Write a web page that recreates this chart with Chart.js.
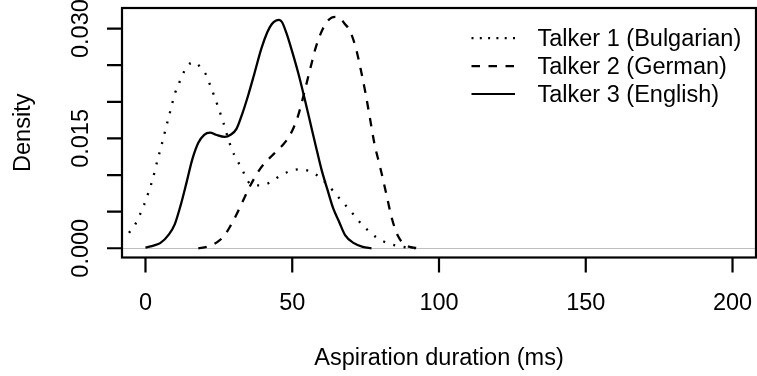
<!DOCTYPE html>
<html>
<head>
<meta charset="utf-8">
<title>Aspiration duration density</title>
<script src="https://cdn.jsdelivr.net/npm/chart.js@4/dist/chart.umd.min.js"></script>
<style>
  html, body { margin: 0; padding: 0; background: #fff; overflow: hidden; }
  canvas { display: block; }
</style>
</head>
<body>
<canvas id="densityChart" width="757" height="376"></canvas>
<script>
// Kernel density estimates of aspiration duration, one curve per talker
const bulgarianX = [-5.6, -3.6, -2, -0.5, 1, 2.5, 4, 5.5, 7, 8.5, 10, 11.5, 13, 14.5, 15.5, 16.5, 17.5, 19, 20.5, 22, 23.5, 25, 26.5, 28, 29.5, 31, 33, 35, 37, 39.5, 42.5, 45.5, 49, 52.5, 56, 59, 61.5, 64, 66.5, 69, 71.5, 74, 76.5, 79, 82.5, 86, 89.5, 92];
const bulgarianDensity = [0.0021, 0.0032, 0.0045, 0.0059, 0.0076, 0.0095, 0.0119, 0.0141, 0.0165, 0.0188, 0.0211, 0.0226, 0.0240, 0.0250, 0.0253, 0.0254, 0.0252, 0.0246, 0.0238, 0.0223, 0.0207, 0.0190, 0.0172, 0.0152, 0.0134, 0.0122, 0.0107, 0.0091, 0.0086, 0.0086, 0.0090, 0.0098, 0.0105, 0.0108, 0.0105, 0.0098, 0.0089, 0.0078, 0.0066, 0.0055, 0.0043, 0.0031, 0.0022, 0.0014, 0.0007, 0.0003, 0.0001, 0.0000];

const germanX = [18, 21, 23, 25, 27, 29, 31, 33, 35, 37, 39, 41, 43, 45, 47, 49, 50.5, 52, 53.5, 55, 56.5, 58, 60, 62, 63.5, 65, 66.5, 68, 69.5, 71.5, 73.5, 75, 76.5, 78, 80, 82, 84, 86, 88, 90, 93];
const germanDensity = [0.0000, 0.0002, 0.0005, 0.0010, 0.0018, 0.0031, 0.0046, 0.0063, 0.0080, 0.0095, 0.0108, 0.0118, 0.0126, 0.0134, 0.0142, 0.0153, 0.0165, 0.0181, 0.0203, 0.0227, 0.0251, 0.0274, 0.0296, 0.0310, 0.0315, 0.0316, 0.0313, 0.0306, 0.0298, 0.0276, 0.0241, 0.0211, 0.0177, 0.0143, 0.0110, 0.0075, 0.0040, 0.0017, 0.0006, 0.0002, 0.0000];

const englishX = [0, 3, 5, 8, 10, 12, 14, 16, 18, 20, 22, 24, 27, 29, 31, 33, 35, 37, 39.5, 41.5, 43, 44.5, 45.5, 46.5, 48, 49.5, 52, 54, 56, 58, 60, 62, 64, 66, 68, 71, 74, 77];
const englishDensity = [0.0001, 0.0004, 0.0007, 0.0019, 0.0033, 0.0059, 0.0090, 0.0122, 0.0144, 0.0155, 0.0158, 0.0155, 0.0152, 0.0155, 0.0163, 0.0184, 0.0209, 0.0237, 0.0273, 0.0295, 0.0306, 0.0311, 0.0312, 0.0309, 0.0294, 0.0275, 0.0240, 0.0208, 0.0174, 0.0140, 0.0107, 0.0080, 0.0054, 0.0036, 0.0018, 0.0007, 0.0002, 0.0000];

const talkerNames = ['Talker 1 (Bulgarian)', 'Talker 2 (German)', 'Talker 3 (English)'];

const xTicks = [0, 50, 100, 150, 200];
const yTicks = [0, 0.005, 0.010, 0.015, 0.020, 0.025, 0.030];
const yTickLabels = [0, 0.015, 0.030];
const xTitle = 'Aspiration duration (ms)';
const yTitle = 'Density';

const FONT = '23.5px "Liberation Sans", Arial, sans-serif';
const DOTTED = [2, 8.6];
const DASHED = [8.5, 8.5];

function toPoints(xs, ys) {
  return xs.map((x, i) => ({ x: x, y: ys[i] }));
}

// base-graphics style frame: box, outward ticks, rotated y labels, plain legend
const baseAxes = {
  id: 'baseAxes',
  beforeDatasetsDraw(chart) {
    const { ctx, chartArea: a, scales } = chart;
    const y0 = Math.round(scales.y.getPixelForValue(0)) + 0.5;
    ctx.save();
    ctx.strokeStyle = '#bebebe';
    ctx.lineWidth = 1;
    ctx.beginPath();
    ctx.moveTo(a.left, y0);
    ctx.lineTo(a.right, y0);
    ctx.stroke();
    ctx.restore();
  },
  afterDraw(chart) {
    const { ctx, chartArea: a, scales } = chart;
    const xs = scales.x, ys = scales.y;
    ctx.save();
    ctx.strokeStyle = '#000';
    ctx.fillStyle = '#000';
    ctx.lineWidth = 2.2;
    ctx.strokeRect(a.left, a.top, a.right - a.left, a.bottom - a.top);

    ctx.font = FONT;
    ctx.beginPath();
    xTicks.forEach(v => {
      const px = xs.getPixelForValue(v);
      ctx.moveTo(px, a.bottom);
      ctx.lineTo(px, a.bottom + 15);
    });
    yTicks.forEach(v => {
      const py = ys.getPixelForValue(v);
      ctx.moveTo(a.left, py);
      ctx.lineTo(a.left - 15, py);
    });
    ctx.stroke();

    ctx.textAlign = 'center';
    ctx.textBaseline = 'alphabetic';
    xTicks.forEach(v => {
      ctx.fillText(String(v), xs.getPixelForValue(v), a.bottom + 52);
    });
    yTickLabels.forEach(v => {
      ctx.save();
      ctx.translate(a.left - 34.5, ys.getPixelForValue(v));
      ctx.rotate(-Math.PI / 2);
      ctx.fillText(v.toFixed(3), 0, 0);
      ctx.restore();
    });

    ctx.fillText(xTitle, (a.left + a.right) / 2, 365);
    ctx.save();
    ctx.translate(29.5, (a.top + a.bottom) / 2);
    ctx.rotate(-Math.PI / 2);
    ctx.fillText(yTitle, 0, 0);
    ctx.restore();

    // legend, top right, no frame
    const dashes = [[2, 6.3], DASHED, []];
    const rowY = [38.2, 66.1, 94.0];
    ctx.textAlign = 'left';
    talkerNames.forEach((name, i) => {
      ctx.setLineDash(dashes[i]);
      ctx.beginPath();
      ctx.moveTo(471.5, rowY[i]);
      ctx.lineTo(515, rowY[i]);
      ctx.stroke();
      ctx.setLineDash([]);
      ctx.fillText(name, 537.5, rowY[i] + 7.8);
    });
    ctx.restore();
  }
};

const lineStyle = { borderColor: '#000', borderWidth: 2.3, pointRadius: 0, cubicInterpolationMode: 'monotone', fill: false };

new Chart(document.getElementById('densityChart').getContext('2d'), {
  type: 'line',
  data: {
    datasets: [
      Object.assign({ label: talkerNames[0], data: toPoints(bulgarianX, bulgarianDensity), borderDash: DOTTED }, lineStyle),
      Object.assign({ label: talkerNames[1], data: toPoints(germanX, germanDensity), borderDash: DASHED }, lineStyle),
      Object.assign({ label: talkerNames[2], data: toPoints(englishX, englishDensity) }, lineStyle)
    ]
  },
  options: {
    responsive: false,
    animation: false,
    devicePixelRatio: 1,
    layout: { padding: { left: 122, right: 1, top: 8, bottom: 118.5 } },
    scales: {
      x: { type: 'linear', min: -8, max: 208, display: false },
      y: { type: 'linear', min: -0.00126, max: 0.03281, display: false }
    },
    plugins: { legend: { display: false }, tooltip: { enabled: false } }
  },
  plugins: [baseAxes]
});
</script>
</body>
</html>
